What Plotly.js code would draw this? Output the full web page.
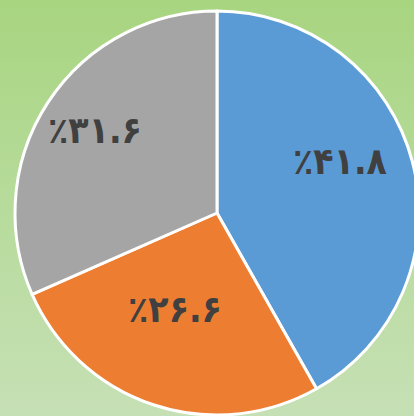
<!DOCTYPE html>
<html><head><meta charset="utf-8">
<script src="https://cdn.plot.ly/plotly-3.0.1.min.js"></script>
<style>
html,body{margin:0;padding:0;width:414px;height:416px;overflow:hidden;
background:linear-gradient(to bottom,#a8d580 0%,#b7db9c 50%,#c6e0b5 100%);}
#chart{width:424px;height:416px;}
</style></head>
<body><div id="chart"></div>
<script>
const categories = ["A", "B", "C"];
const values = [41.8, 26.6, 31.6];
const labelsText = ["٪۴۱.۸", "٪۲۶.۶", "٪۳۱.۶"];
const colors = ["#5b9bd5", "#ed7d31", "#a5a5a5"];

// label placement style (radius fraction, angle offset in degrees from slice bisector)
const labelRadius = [0.66, 0.52, 0.73];
const labelAngleShift = [-8, 5, 1];

const W = 424, H = 416;
const dom = {x: [15/W, 419/W], y: [1-415/H, 1-11/H]};
const cx = (dom.x[0]+dom.x[1])/2, cy = (dom.y[0]+dom.y[1])/2;
const rx = (dom.x[1]-dom.x[0])/2, ry = (dom.y[1]-dom.y[0])/2;

const total = values.reduce((a,b)=>a+b,0);
let cum = 0;
const annotations = values.map((v,i)=>{
  const mid = (cum + v/2)/total*360 + labelAngleShift[i];
  cum += v;
  const a = mid*Math.PI/180;
  return {
    x: cx + labelRadius[i]*rx*Math.sin(a),
    y: cy + labelRadius[i]*ry*Math.cos(a),
    xref: "paper", yref: "paper", xanchor: "center", yanchor: "middle",
    text: labelsText[i], showarrow: false,
    font: {family: "DejaVu Sans Condensed, DejaVu Sans", size: 37, color: "#404040", weight: "bold"}
  };
});

Plotly.newPlot("chart", [{
  type: "pie",
  labels: categories,
  values: values,
  textinfo: "none",
  sort: false,
  direction: "clockwise",
  rotation: 0,
  marker: {colors: colors, line: {color: "#ffffff", width: 3}},
  hoverinfo: "none",
  domain: dom
}], {
  width: W, height: H,
  margin: {l: 0, r: 0, t: 0, b: 0},
  paper_bgcolor: "rgba(0,0,0,0)",
  showlegend: false,
  annotations: annotations
}, {displayModeBar: false, staticPlot: true});
</script></body></html>
